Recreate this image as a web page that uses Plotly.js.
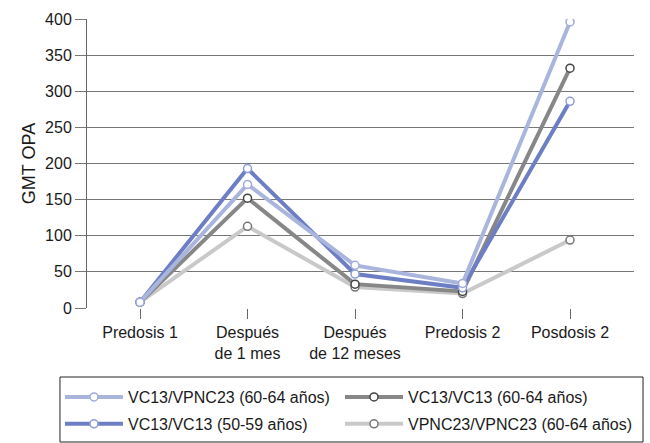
<!DOCTYPE html>
<html>
<head>
<meta charset="utf-8">
<script src="https://cdn.plot.ly/plotly-3.0.1.min.js"></script>
<style>html,body{margin:0;padding:0;background:#fff;}#chart{width:650px;height:443px;}</style>
</head>
<body>
<div id="chart"></div>
<script>
const categories = ["Predosis 1", "Después<br>de 1 mes", "Después<br>de 12 meses", "Predosis 2", "Posdosis 2"];
const seriesNames = ["VC13/VPNC23 (60-64 años)", "VC13/VC13 (60-64 años)", "VC13/VC13 (50-59 años)", "VPNC23/VPNC23 (60-64 años)"];
const vc13vpnc23_6064 = [8, 171, 59, 34, 396];
const vc13vc13_6064 = [8, 152, 33, 23, 332];
const vc13vc13_5059 = [8, 193, 47, 28, 286];
const vpnc23vpnc23_6064 = [8, 113, 29, 20, 94];
const yTicks = [0, 50, 100, 150, 200, 250, 300, 350, 400];

const lineColors = ["#aab5de", "#878787", "#6e7ec5", "#c9c9c9"];
const markerLines = ["#9eabdc", "#444444", "#8f9cd8", "#777777"];
const values = [vc13vpnc23_6064, vc13vc13_6064, vc13vc13_5059, vpnc23vpnc23_6064];
const legendIds = ["legend", "legend2", "legend3", "legend4"];
const drawOrder = [3, 1, 2, 0];

const traces = drawOrder.map(i => ({
  type: "scatter",
  mode: "lines+markers",
  x: categories,
  y: values[i],
  name: seriesNames[i],
  legend: legendIds[i],
  line: {color: lineColors[i], width: 4},
  marker: {symbol: "circle", size: 8, color: "#ffffff", line: {color: markerLines[i], width: 1.5}},
  hoverinfo: "skip"
}));

const font = {family: "Liberation Sans, Arial, Helvetica, sans-serif", color: "#1a1a1a"};

function legendSpec(x, y) {
  return {
    orientation: "h",
    x: x,
    xanchor: "left",
    y: y,
    yanchor: "middle",
    bgcolor: "rgba(0,0,0,0)",
    borderwidth: 0,
    itemwidth: 58,
    font: Object.assign({size: 16}, font)
  };
}

const colX = [-0.0494, 0.4625];
const rowY = [-0.308, -0.401];

const layout = {
  width: 650,
  height: 443,
  margin: {l: 87, r: 16, t: 19, b: 135, autoexpand: false},
  paper_bgcolor: "#ffffff",
  plot_bgcolor: "#ffffff",
  font: Object.assign({size: 16}, font),
  showlegend: true,
  xaxis: {
    type: "category",
    range: [-0.493, 4.595],
    showgrid: false,
    zeroline: false,
    showline: false,
    ticks: "outside",
    ticklen: 10,
    tickcolor: "#666666",
    tickwidth: 1,
    tickfont: Object.assign({size: 16}, font),
    fixedrange: true
  },
  yaxis: {
    range: [0, 400],
    tickvals: yTicks,
    ticktext: yTicks.map(String),
    showgrid: true,
    gridcolor: "#777777",
    gridwidth: 1,
    zeroline: false,
    showline: true,
    linecolor: "#666666",
    linewidth: 1,
    ticks: "outside",
    ticklen: 11,
    tickcolor: "#777777",
    tickfont: Object.assign({size: 16}, font),
    title: {text: "GMT OPA", font: Object.assign({size: 18}, font), standoff: 4},
    fixedrange: true
  },
  legend: legendSpec(colX[0], rowY[0]),
  legend2: legendSpec(colX[1], rowY[0]),
  legend3: legendSpec(colX[0], rowY[1]),
  legend4: legendSpec(colX[1], rowY[1]),
  shapes: [{
    type: "rect", xref: "paper", yref: "paper",
    x0: -0.0494, x1: 1.0165, y0: -0.4637, y1: -0.2388,
    line: {color: "#222222", width: 1},
    fillcolor: "rgba(0,0,0,0)",
    layer: "below"
  }]
};

Plotly.newPlot("chart", traces, layout, {displayModeBar: false, staticPlot: true});
</script>
</body>
</html>
